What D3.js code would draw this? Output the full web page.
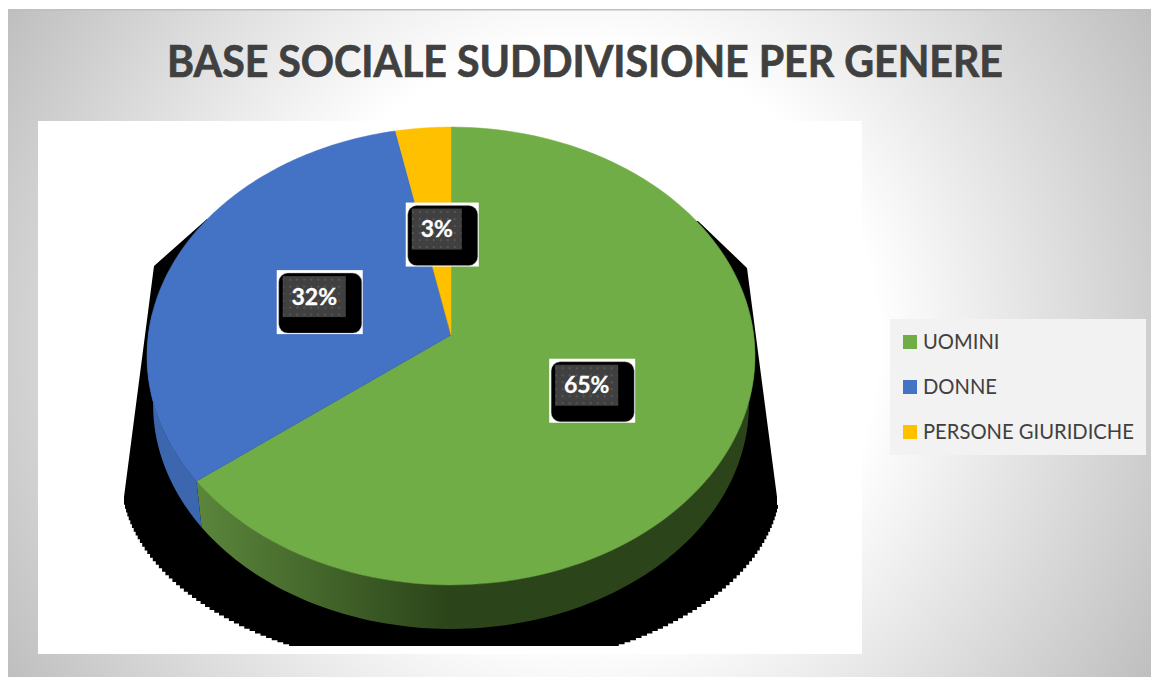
<!DOCTYPE html>
<html>
<head>
<meta charset="utf-8">
<script src="https://cdn.jsdelivr.net/npm/d3@7"></script>
<style>
  html, body { margin: 0; padding: 0; background: #fff; }
  svg { display: block; }
  text { font-family: Lato, "Open Sans", sans-serif; }
</style>
</head>
<body>
<svg id="chart" width="1151" height="677"></svg>
<script>
const title = 'BASE SOCIALE SUDDIVISIONE PER GENERE';

// The labels are these values rounded
const categories = ['UOMINI', 'DONNE', 'PERSONE GIURIDICHE'];
const shares = [64.6, 32.2, 3.2];
const colors = ['#70ad47', '#4472c4', '#ffc000'];
const wallColors = [['#5a853b', '#2b4419'], ['#3c66ad', '#2f5597'], ['#bf9000', '#bf9000']];

const svg = d3.select('#chart');
const defs = svg.append('defs');

// Tilted pie, a circle seen in perspective
const pieGeo = { cx: 451, cy: 335, a: 302.7, b: 227, k: 0.0917 };
const topDisc = { dy: 0, s: 1 };
const bottomDisc = { dy: 49, s: 0.98 };

function project(angle, r, disc) {
  const X = r * Math.sin(angle);
  const Y = -r * Math.cos(angle);
  const w = 1 - pieGeo.k * Y;
  return [pieGeo.cx + (pieGeo.a * disc.s * X) / w, pieGeo.cy + disc.dy + (pieGeo.b * disc.s * Y) / w];
}

function rim(start, end, disc) {
  return d3.range(0, 121).map((i) => project(start + ((end - start) * i) / 120, 1, disc));
}

const line = d3.line();
const slices = d3.pie().sort(null)(shares);

drawBackground();
drawTitle();
drawShadow();
drawWalls();
drawTop();
drawLabels();
drawLegend();

function drawBackground() {
  const grad = defs
    .append('radialGradient')
    .attr('id', 'panelFill')
    .attr('gradientUnits', 'userSpaceOnUse')
    .attr('cx', 580)
    .attr('cy', 343)
    .attr('r', 660);
  grad.append('stop').attr('offset', 0).attr('stop-color', '#fff');
  grad.append('stop').attr('offset', 0.45).attr('stop-color', '#fff');
  grad.append('stop').attr('offset', 1).attr('stop-color', '#bfbfbf');

  svg
    .append('rect')
    .attr('x', 8)
    .attr('y', 9.5)
    .attr('width', 1143)
    .attr('height', 667.5)
    .attr('fill', 'url(#panelFill)');
  svg.append('rect').attr('x', 8).attr('y', 9).attr('width', 1143).attr('height', 1.5).attr('fill', '#bfbfbf');
  svg.append('rect').attr('x', 38).attr('y', 121).attr('width', 824).attr('height', 533).attr('fill', '#fff');
}

function drawTitle() {
  svg
    .append('text')
    .attr('x', 167)
    .attr('y', 77)
    .attr('textLength', 836)
    .attr('lengthAdjust', 'spacingAndGlyphs')
    .attr('font-size', 44.5)
    .attr('font-weight', 700)
    .attr('fill', '#404040')
    .attr('stroke', '#404040')
    .attr('stroke-width', 0.7)
    .text(title);
}

// Black shape behind the pie, with the rough stair edge of the original
function drawShadow() {
  const cx = 451;
  const cy = 479;
  const rx = 330;
  const ry = 192;
  const floor = 646;

  const lower = d3
    .range(0, 141)
    .map((i) => {
      const t = 0.135 + (i / 140) * (Math.PI - 0.27);
      return [cx + rx * Math.cos(t), Math.min(floor, cy + ry * Math.sin(t))];
    })
    .reverse();

  const edge = d3.line().curve(d3.curveStepAfter)(lower);
  const upper = line([
    [777, 505],
    [777, 497],
    [747, 268],
    [698, 221],
    [207, 219],
    [154, 266],
    [124, 497],
    [124, 505],
  ]);

  svg
    .append('path')
    .attr('class', 'shadow')
    .attr('d', `${edge}L${upper.slice(1)}Z`)
    .attr('fill', '#000');
}

function drawWalls() {
  // Only the front of the rim is ever seen
  const from = Math.PI / 2 - 0.1;
  const to = (3 * Math.PI) / 2 + 0.1;

  slices.forEach((d, i) => {
    const start = Math.max(d.startAngle, from);
    const end = Math.min(d.endAngle, to);
    if (start >= end) return;

    const id = `wall${i}`;
    const grad = defs
      .append('linearGradient')
      .attr('id', id)
      .attr('gradientUnits', 'userSpaceOnUse')
      .attr('x1', 200)
      .attr('x2', 450)
      .attr('y1', 0)
      .attr('y2', 0);
    grad.append('stop').attr('offset', 0).attr('stop-color', wallColors[i][0]);
    grad.append('stop').attr('offset', 1).attr('stop-color', wallColors[i][1]);

    const band = rim(start, end, topDisc).concat(rim(start, end, bottomDisc).reverse());
    svg.append('path').attr('d', `${line(band)}Z`).attr('fill', `url(#${id})`);
  });
}

function drawTop() {
  svg
    .append('g')
    .selectAll('path')
    .data(slices)
    .join('path')
    .attr('d', (d) => `${line([[pieGeo.cx, pieGeo.cy], ...rim(d.startAngle, d.endAngle, topDisc)])}Z`)
    .attr('fill', (d, i) => colors[i])
    .attr('stroke', (d, i) => colors[i])
    .attr('stroke-width', 0.5);
}

function drawLabels() {
  const dots = defs
    .append('pattern')
    .attr('id', 'dots')
    .attr('patternUnits', 'userSpaceOnUse')
    .attr('width', 7)
    .attr('height', 7);
  dots.append('rect').attr('width', 7).attr('height', 7).attr('fill', '#404040');
  dots.append('rect').attr('x', 3).attr('y', 3).attr('width', 2).attr('height', 2).attr('fill', '#565656');

  slices.forEach((d, i) => {
    const [x, y] = project((d.startAngle + d.endAngle) / 2, 0.49, topDisc);
    const g = svg.append('g').attr('transform', `translate(${x}, ${y})`);
    const white = g.append('rect').attr('fill', '#fff');
    const black = g.append('rect').attr('fill', '#000').attr('stroke', '#999').attr('stroke-width', 0.4).attr('rx', 9);
    const dark = g.append('rect').attr('fill', 'url(#dots)');
    g.append('text')
      .attr('text-anchor', 'middle')
      .attr('y', 8)
      .attr('font-size', 23)
      .attr('font-weight', 700)
      .attr('fill', '#fff')
      .attr('stroke', '#fff')
      .attr('stroke-width', 0.3)
      .text(`${Math.round(d.value)}%`);

    const w = i === 2 ? 50 : 63;
    const h = 41;
    white.attr('x', -w / 2 - 6).attr('y', -h / 2 - 6).attr('width', w + 23).attr('height', h + 23);
    black.attr('x', -w / 2 - 4).attr('y', -h / 2 - 3).attr('width', w + 20).attr('height', h + 19);
    dark.attr('x', -w / 2).attr('y', -h / 2).attr('width', w).attr('height', h);
  });
}

function drawLegend() {
  svg.append('rect').attr('x', 890).attr('y', 319).attr('width', 256).attr('height', 136).attr('fill', '#f2f2f2');

  const rows = svg
    .append('g')
    .selectAll('g')
    .data(categories)
    .join('g')
    .attr('transform', (d, i) => `translate(903, ${335 + i * 45})`);

  rows.append('rect').attr('width', 14).attr('height', 14).attr('fill', (d, i) => colors[i]);
  rows
    .append('text')
    .attr('x', 20)
    .attr('y', 14)
    .attr('font-size', 20.2)
    .attr('fill', '#404040')
    .text((d) => d);
}
</script>
</body>
</html>
